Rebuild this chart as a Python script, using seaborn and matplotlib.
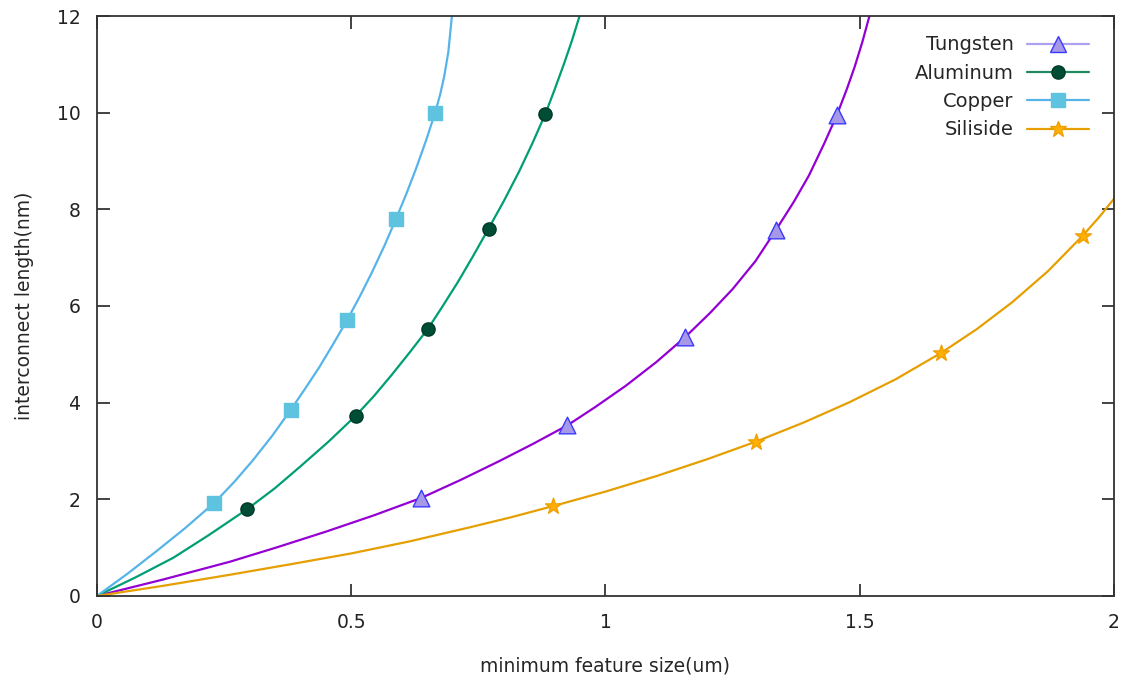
import pandas as pd
import matplotlib
matplotlib.use("Agg")
import matplotlib.pyplot as plt
import seaborn as sns
from matplotlib.lines import Line2D

# curve points
copper_x = [0, 0.06, 0.115, 0.173, 0.231, 0.27, 0.306, 0.345, 0.381, 0.41, 0.437, 0.465,
            0.492, 0.517, 0.540, 0.565, 0.588, 0.608, 0.627, 0.647, 0.665, 0.675, 0.683,
            0.691, 0.698]
copper_y = [0, 0.46, 0.91, 1.40, 1.93, 2.36, 2.80, 3.32, 3.85, 4.30, 4.73, 5.22,
            5.71, 6.20, 6.68, 7.24, 7.80, 8.31, 8.83, 9.42, 10.0, 10.38, 10.76,
            11.26, 12.0]
alum_x = [0, 0.075, 0.15, 0.22, 0.296, 0.35, 0.40, 0.455, 0.509, 0.545, 0.58, 0.615,
          0.651, 0.68, 0.71, 0.74, 0.770, 0.80, 0.83, 0.856, 0.882, 0.90, 0.918, 0.934,
          0.949]
alum_y = [0, 0.38, 0.79, 1.26, 1.80, 2.23, 2.68, 3.19, 3.73, 4.14, 4.58, 5.04,
          5.53, 6.00, 6.50, 7.04, 7.60, 8.17, 8.78, 9.36, 9.98, 10.48, 11.0, 11.49,
          12.0]
tung_x = [0, 0.13, 0.262, 0.355, 0.45, 0.545, 0.638, 0.715, 0.791, 0.858, 0.925, 0.98,
          1.04, 1.10, 1.157, 1.205, 1.25, 1.295, 1.335, 1.37, 1.40, 1.43, 1.455, 1.475,
          1.49, 1.505, 1.519]
tung_y = [0, 0.34, 0.71, 1.01, 1.33, 1.67, 2.03, 2.40, 2.79, 3.15, 3.53, 3.91,
          4.35, 4.84, 5.36, 5.85, 6.35, 6.93, 7.57, 8.15, 8.70, 9.36, 9.95, 10.50,
          10.95, 11.46, 12.0]
sili_x = [0, 0.13, 0.262, 0.38, 0.50, 0.615, 0.733, 0.815, 0.897, 1.0, 1.10, 1.20,
          1.295, 1.39, 1.48, 1.57, 1.66, 1.73, 1.80, 1.87, 1.938, 1.97, 2.0]
sili_y = [0, 0.21, 0.44, 0.655, 0.88, 1.13, 1.42, 1.63, 1.86, 2.16, 2.48, 2.83,
          3.19, 3.59, 4.01, 4.48, 5.03, 5.52, 6.08, 6.72, 7.45, 7.83, 8.22]

# marker points
copper_px = [0.231, 0.381, 0.492, 0.588, 0.665]
copper_py = [1.93, 3.85, 5.71, 7.80, 10.0]
alum_px = [0.296, 0.509, 0.651, 0.770, 0.882]
alum_py = [1.80, 3.73, 5.53, 7.60, 9.98]
tung_px = [0.638, 0.925, 1.157, 1.335, 1.455]
tung_py = [2.03, 3.53, 5.36, 7.57, 9.95]
sili_px = [0.897, 1.295, 1.660, 1.938]
sili_py = [1.86, 3.19, 5.03, 7.45]

sns.set_style("ticks")
plt.rcParams['font.family'] = ['DejaVu Sans']

fig = plt.figure(figsize=(11.34, 6.84), dpi=100)
ax = fig.add_axes([0.0855, 0.1287, 0.8969, 0.8479])

series = [
    ("Tungsten", tung_x, tung_y, tung_px, tung_py, "#9400D3", "^", "#A898E8", "#3A3AFF", 12, "#B0A0F0"),
    ("Aluminum", alum_x, alum_y, alum_px, alum_py, "#009E73", "o", "#004D36", "#003A28", 9.5, "#1E8A5E"),
    ("Copper", copper_x, copper_y, copper_px, copper_py, "#56B4E9", "s", "#5EC3DF", "#5EC3DF", 10, "#56B4E9"),
    ("Siliside", sili_x, sili_y, sili_px, sili_py, "#E69F00", "*", "#FFB000", "#F0A000", 12, "#E69F00"),
]

handles = []
for name, cx, cy, px, py, lc, mk, mfc, mec, ms, leg_lc in series:
    curve = pd.DataFrame({"x": cx, "y": cy})
    pts = pd.DataFrame({"x": px, "y": py})
    sns.lineplot(data=curve, x="x", y="y", ax=ax, color=lc, linewidth=1.6,
                 estimator=None, sort=False)
    sns.scatterplot(data=pts, x="x", y="y", ax=ax, marker=mk, s=ms ** 2,
                    color=mfc, edgecolor=mec, linewidth=1.0, zorder=5)
    handles.append(Line2D([0], [0], color=leg_lc, lw=1.6, marker=mk, markersize=ms,
                          markerfacecolor=mfc, markeredgecolor=mec, label=name))

ax.set_xlim(0, 2)
ax.set_ylim(0, 12)
ax.set_xticks([0, 0.5, 1, 1.5, 2])
ax.set_xticklabels(["0", "0.5", "1", "1.5", "2"])
ax.set_yticks([0, 2, 4, 6, 8, 10, 12])
ax.tick_params(direction="in", length=9, width=1.2, top=True, right=True,
               labelsize=13.5, colors="#222222", pad=12)
for s in ax.spines.values():
    s.set_linewidth(1.3)
    s.set_color("#333333")
    s.set_visible(True)

ax.set_xlabel("minimum feature size(um)", fontsize=13.5, labelpad=18)
ax.set_ylabel("interconnect length(nm)", fontsize=13.5, labelpad=16)

leg = ax.legend(handles=handles, loc="upper right", frameon=False, markerfirst=False,
                fontsize=14, handlelength=3.2, labelspacing=0.48,
                bbox_to_anchor=(0.989, 0.99), borderaxespad=0.3, handletextpad=0.7)

fig.savefig("out.png", dpi=100)
